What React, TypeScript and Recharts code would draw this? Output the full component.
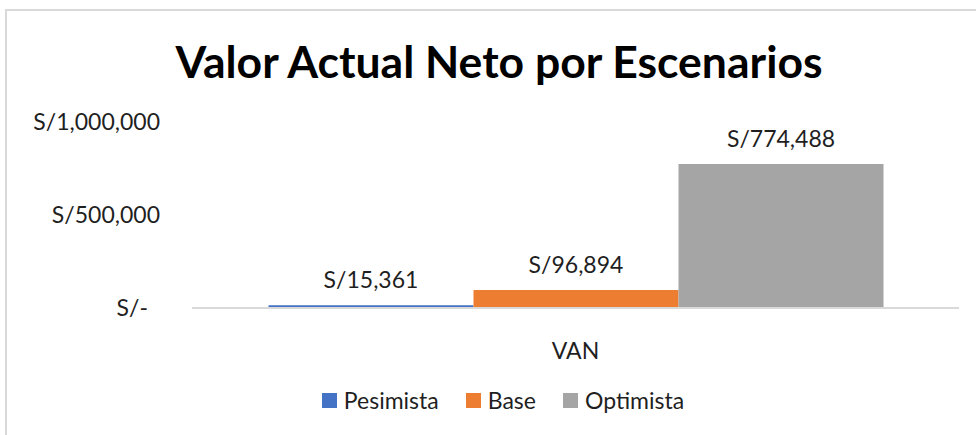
import React from 'react';
import { BarChart, Bar, XAxis, YAxis, Legend, LabelList } from 'recharts';

const categories = ['VAN'];
const seriesNames = ['Pesimista', 'Base', 'Optimista'];
const pesimista = [15361];
const base = [96894];
const optimista = [774488];
const yTicks = [0, 500000, 1000000];
const title = 'Valor Actual Neto por Escenarios';

const colors = ['#4472C4', '#ED7D31', '#A5A5A5'];
const FONT = 'Lato, "Open Sans", sans-serif';
const TEXT = '#1f1f1f';
const FS = 23;

const data = categories.map((c, i) => ({
  name: c,
  Pesimista: pesimista[i],
  Base: base[i],
  Optimista: optimista[i],
}));

const fmt = (v: number) => (v === 0 ? 'S/-' : 'S/' + Number(v).toLocaleString('en-US'));

const YTick = (props: any) => {
  const { y, payload } = props;
  const v = payload.value;
  const x = v === 0 ? 148 : 160;
  return (
    <text x={x} y={y} dy="0.35em" textAnchor="end" fontSize={FS} fontFamily={FONT} fill={TEXT}>
      {fmt(v)}
    </text>
  );
};

const XTick = (props: any) => {
  const { x, y, payload } = props;
  return (
    <text x={x} y={y + 35} dy="0.35em" textAnchor="middle" fontSize={FS} fontFamily={FONT} fill={TEXT}>
      {payload.value}
    </text>
  );
};

const LegendContent = () => (
  <div style={{ display: 'flex', justifyContent: 'center', alignItems: 'center', fontFamily: FONT, fontSize: FS, color: TEXT, lineHeight: '26px' }}>
    {seriesNames.map((n, i) => (
      <div key={n} style={{ display: 'flex', alignItems: 'center', marginLeft: i === 0 ? 0 : 27 }}>
        <span style={{ display: 'inline-block', width: 15, height: 15, background: colors[i], marginRight: 7 }} />
        <span>{n}</span>
      </div>
    ))}
  </div>
);

export default function App() {
  return (
    <div style={{ position: 'fixed', left: 0, top: 0, width: 976, height: 435, overflow: 'hidden', background: '#fff' }}>
      <div style={{ position: 'absolute', left: 5, top: 9, width: 1100, height: 600, border: '2px solid #d9d9d9', boxSizing: 'border-box' }} />
      <div style={{ position: 'absolute', left: 0, top: 34, width: 998, textAlign: 'center', fontFamily: FONT, fontWeight: 700, fontSize: 44.5, color: '#000', lineHeight: '54px' }}>
        {title}
      </div>
      <div style={{ position: 'absolute', left: 0, top: 0 }}>
        <BarChart
          width={976}
          height={435}
          data={data}
          margin={{ top: 122, right: 17, left: 0, bottom: 77 }}
          barGap={0}
          barCategoryGap={76.5}
        >
          <XAxis dataKey="name" axisLine={{ stroke: '#d9d9d9', strokeWidth: 2 }} tickLine={false} tick={<XTick />} height={50} />
          <YAxis width={192} domain={[0, 1000000]} ticks={yTicks} axisLine={false} tickLine={false} tick={<YTick />} />
          <Legend
            layout="horizontal"
            verticalAlign="middle"
            align="center"
            content={<LegendContent />}
            wrapperStyle={{ top: 387, left: 0, width: 1006, height: 26 }}
          />
          {seriesNames.map((n, i) => (
            <Bar key={n} dataKey={n} fill={colors[i]} isAnimationActive={false}>
              <LabelList dataKey={n} position="top" offset={17} formatter={(v: any) => fmt(Number(v))} style={{ fontSize: FS, fontFamily: FONT, fill: TEXT }} />
            </Bar>
          ))}
        </BarChart>
      </div>
    </div>
  );
}
